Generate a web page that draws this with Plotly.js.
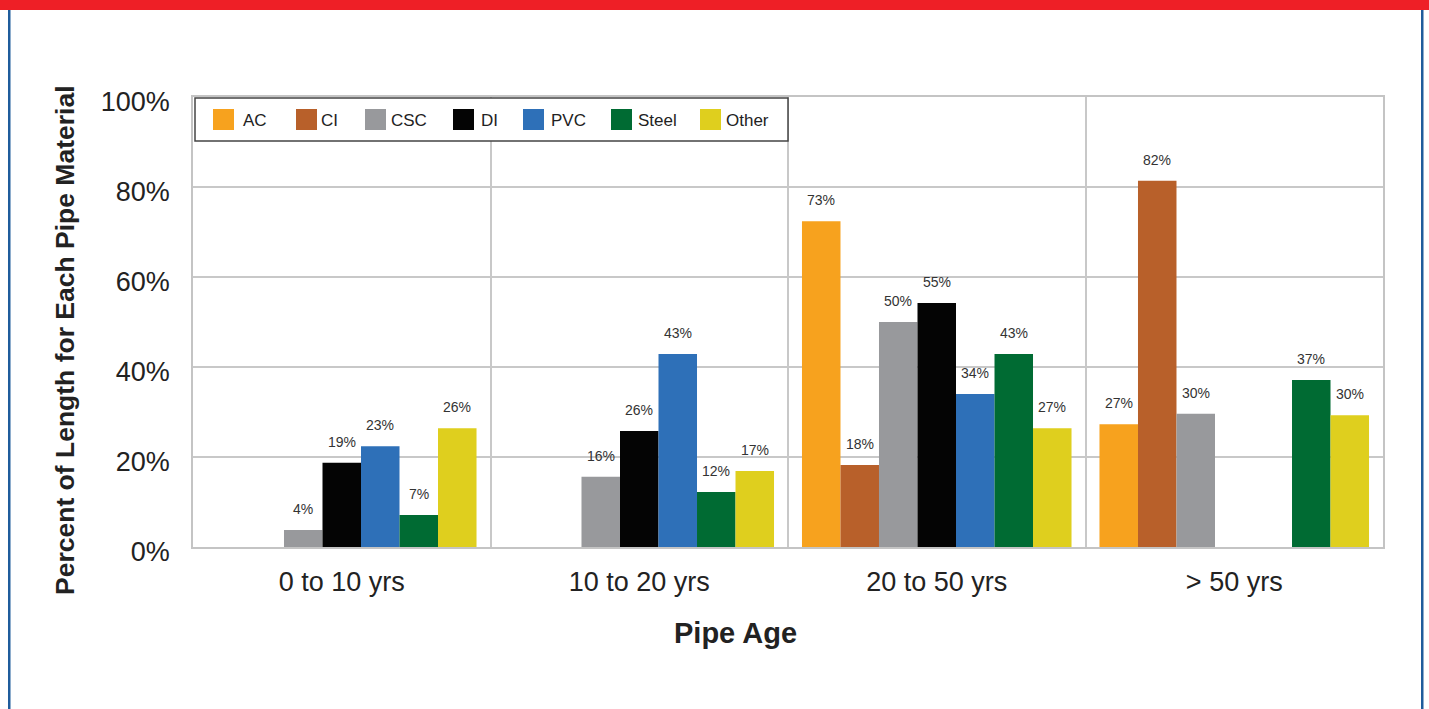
<!DOCTYPE html>
<html>
<head>
<meta charset="utf-8">
<script src="https://cdn.plot.ly/plotly-3.0.1.min.js"></script>
<style>
  html, body { margin: 0; padding: 0; background: #ffffff; }
  #chart { width: 1429px; height: 709px; }
</style>
</head>
<body>
<div id="chart"></div>
<script>
// ---- data ----
const categories = ["0 to 10 yrs", "10 to 20 yrs", "20 to 50 yrs", "> 50 yrs"];
const seriesNames = ["AC", "CI", "CSC", "DI", "PVC", "Steel", "Other"];
// bar heights (percent)
const AC    = [0,    0,    72.4, 27.3];
const CI    = [0,    0,    18.2, 81.4];
const CSC   = [3.8,  15.6, 50.0, 29.6];
const DI    = [18.7, 25.8, 54.2, 0];
const PVC   = [22.4, 42.9, 34.0, 0];
const Steel = [7.1,  12.2, 42.9, 37.1];
const Other = [26.4, 16.9, 26.4, 29.3];
// printed data labels (percent)
const AC_lab    = [null, null, 73, 27];
const CI_lab    = [null, null, 18, 82];
const CSC_lab   = [4,  16, 50, 30];
const DI_lab    = [19, 26, 55, null];
const PVC_lab   = [23, 43, 34, null];
const Steel_lab = [7,  12, 43, 37];
const Other_lab = [26, 17, 27, 30];
const yTickVals = [0, 20, 40, 60, 80, 100];
const yTickText = ["0%", "20%", "40%", "60%", "80%", "100%"];
const xTitle = "Pipe Age";
const yTitle = "Percent of Length for Each Pipe Material";

// ---- styles ----
const colors = ["#f7a21e", "#b8602a", "#98999c", "#040404", "#2e70b8", "#006b33", "#dfcf1e"];
const values = [AC, CI, CSC, DI, PVC, Steel, Other];
const labels = [AC_lab, CI_lab, CSC_lab, DI_lab, PVC_lab, Steel_lab, Other_lab];
const FONT = "Liberation Sans, Arial, Helvetica, sans-serif";

const W = 1429, H = 709;
const M = { l: 193, r: 46, t: 97, b: 162 };
const PW = W - M.l - M.r, PH = H - M.t - M.b;
const px = x => (x - M.l) / PW;          // pixel -> paper x
const py = y => (H - M.b - y) / PH;      // pixel -> paper y
const BARGAP = 0.094;
const barW = PW / categories.length * (1 - BARGAP) / seriesNames.length;

const traces = seriesNames.map((name, i) => ({
  type: "bar",
  name: name,
  x: categories,
  y: values[i],
  marker: { color: colors[i], line: { width: 0 } },
  hoverinfo: "x+y+name",
  showlegend: false
}));

// ---- frame + manual legend ----
const shapes = [
  { type: "rect", xref: "paper", yref: "paper", x0: px(0), x1: px(W), y0: py(0), y1: py(10),
    fillcolor: "#ee1f26", line: { width: 0 }, layer: "above" },
  { type: "rect", xref: "paper", yref: "paper", x0: px(8), x1: px(10.5), y0: py(10), y1: py(H),
    fillcolor: "#1f5c9c", line: { width: 0 }, layer: "above" },
  { type: "rect", xref: "paper", yref: "paper", x0: px(1421), x1: px(1423.5), y0: py(10), y1: py(H),
    fillcolor: "#1f5c9c", line: { width: 0 }, layer: "above" },
  { type: "rect", xref: "paper", yref: "paper", x0: px(195), x1: px(788), y0: py(98), y1: py(141),
    fillcolor: "#ffffff", line: { color: "#444444", width: 1.5 }, layer: "above" }
];
const annotations = [];
// data labels placed above each bar (data coords + offset within group)
seriesNames.forEach((name, i) => {
  categories.forEach((cat, j) => {
    const lab = labels[i][j];
    if (lab === null) return;
    annotations.push({ xref: "x", yref: "y", x: cat, y: values[i][j],
      xshift: (i - (seriesNames.length - 1) / 2) * barW, yshift: 21,
      xanchor: "center", yanchor: "middle", showarrow: false, text: lab + "%",
      font: { family: FONT, size: 14, color: "#333333" } });
  });
});
const legendSwatchX = [213, 296, 365, 453, 523, 611, 700];
const legendTextX   = [241, 319, 389, 479, 549, 636, 724];
seriesNames.forEach((name, i) => {
  shapes.push({ type: "rect", xref: "paper", yref: "paper",
    x0: px(legendSwatchX[i]), x1: px(legendSwatchX[i] + 21), y0: py(109), y1: py(130),
    fillcolor: colors[i], line: { width: 0 }, layer: "above" });
  annotations.push({ xref: "paper", yref: "paper", x: px(legendTextX[i]), y: py(120),
    xanchor: "left", yanchor: "middle", showarrow: false, text: name,
    font: { family: FONT, size: 17, color: "#222222" } });
});
// axis titles (placed as in the original, slightly off-centre)
annotations.push({ xref: "paper", yref: "paper", x: px(735), y: py(633),
  xanchor: "center", yanchor: "middle", showarrow: false, text: "<b>" + xTitle + "</b>",
  font: { family: FONT, size: 29, color: "#222222" } });
annotations.push({ xref: "paper", yref: "paper", x: px(65), y: py(340), textangle: -90,
  xanchor: "center", yanchor: "middle", showarrow: false, text: "<b>" + yTitle + "</b>",
  font: { family: FONT, size: 26.5, color: "#222222" } });

const layout = {
  width: W, height: H,
  margin: M,
  paper_bgcolor: "#ffffff",
  plot_bgcolor: "#ffffff",
  barmode: "group",
  bargap: BARGAP,
  bargroupgap: 0,
  showlegend: false,
  font: { family: FONT, color: "#222222" },
  xaxis: {
    type: "category",
    tickson: "boundaries",
    showgrid: true,
    gridcolor: "#c8c8c8",
    gridwidth: 1.5,
    showline: true,
    linecolor: "#c4c4c4",
    linewidth: 1.5,
    mirror: true,
    ticks: "",
    ticklabelstandoff: 10,
    tickfont: { family: FONT, size: 27, color: "#222222" },
    fixedrange: true
  },
  yaxis: {
    range: [0, 100],
    tickvals: yTickVals,
    ticktext: yTickText,
    showgrid: true,
    gridcolor: "#c8c8c8",
    gridwidth: 1.5,
    showline: true,
    linecolor: "#c4c4c4",
    linewidth: 1.5,
    mirror: true,
    zeroline: false,
    ticks: "",
    ticklabelstandoff: 16,
    ticklabelshift: 5,
    tickfont: { family: FONT, size: 27, color: "#222222" },
    fixedrange: true
  },
  shapes: shapes,
  annotations: annotations
};

Plotly.newPlot("chart", traces, layout, { displayModeBar: false });
</script>
</body>
</html>
